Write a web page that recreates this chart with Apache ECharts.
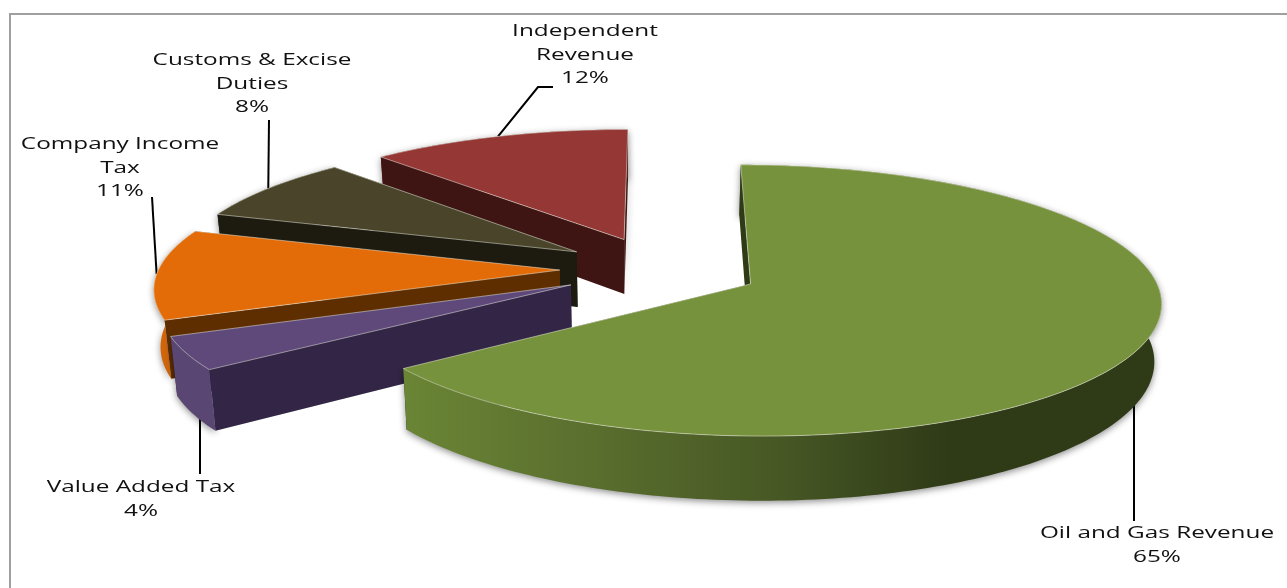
<!DOCTYPE html>
<html>
<head>
<meta charset="utf-8">
<style>html,body{margin:0;padding:0;background:#fff}#chart{width:1287px;height:588px}</style>
<script src="https://cdn.jsdelivr.net/npm/echarts@6/dist/echarts.min.js"></script>
</head>
<body>
<div id="chart"></div>
<script>
// Revenue shares in percent, clockwise from twelve o'clock.
var categories = ['Oil and Gas Revenue', 'Value Added Tax', 'Company Income\nTax', 'Customs & Excise\nDuties', 'Independent\nRevenue'];
var shares = [65, 4, 11, 8, 12];

// Face colours per slice.
var topColors = ['#76923C', '#5F497A', '#E36C09', '#4A452A', '#953735'];
var cutColors = ['#2F3A17', '#322545', '#5F2E00', '#1D1B10', '#3F1513'];
var rimColors = ['#6A8535', '#5A4673', '#D2650A', '#2E2B1A', '#5E2220'];

// Label block centres and the far end of each leader line.
var labelCentres = [[1157, 545], [141, 499], [120, 168], [252, 84], [585, 55]];
var leaderEnds = [[[1134, 521]], [[200, 474]], [[152, 197]], [[269, 120]], [[553, 87], [538, 87]]];
var leaderOnWallBase = [true, true, false, false, false];

// Projection of the exploded, tilted pie.
var centreX = 660, centreY = 269, radiusX = 401, radiusY = 130;
var perspective = 0.12, explode = 0.25, wallHeight = 56;
var wallVanishX = 640, taper = 0.014;

var total = shares.reduce(function (a, b) { return a + b; }, 0);
var startAngles = [];
shares.reduce(function (acc, v, i) { startAngles[i] = acc; return acc + v; }, 0);

function project(X, Y, lowered) {
  var s = 1 / (1 + perspective * Y);
  var px = centreX + radiusX * X * s;
  var py = centreY - radiusY * Y * s;
  if (lowered) {
    px = wallVanishX + (px - wallVanishX) * (1 - taper);
    py += wallHeight * s;
  }
  return [px, py];
}

function sliceGeometry(index) {
  var a0 = startAngles[index] / total * Math.PI * 2;
  var a1 = (startAngles[index] + shares[index]) / total * Math.PI * 2;
  var mid = (a0 + a1) / 2;
  var ox = explode * Math.sin(mid), oy = explode * Math.cos(mid);
  var rim = [];
  var steps = Math.max(8, Math.round((a1 - a0) / 0.02));
  for (var i = 0; i <= steps; i++) {
    var t = a0 + (a1 - a0) * i / steps;
    rim.push([ox + Math.sin(t), oy + Math.cos(t)]);
  }
  return { apex: [ox, oy], rim: rim, midPoint: [ox + Math.sin(mid), oy + Math.cos(mid)] };
}

function wallQuad(a, b) {
  return [project(a[0], a[1]), project(b[0], b[1]), project(b[0], b[1], true), project(a[0], a[1], true)];
}

function renderSlice(params, api) {
  var index = api.value(1);
  var g = sliceGeometry(index);
  var rimTop = g.rim.map(function (p) { return project(p[0], p[1]); });
  var rimLow = g.rim.map(function (p) { return project(p[0], p[1], true); }).reverse();
  var apexTop = project(g.apex[0], g.apex[1]);
  var shadow = { shadowBlur: 7, shadowColor: 'rgba(0,0,0,0.45)', shadowOffsetY: 2 };
  var rimFill = rimColors[index];
  if (index === 0) {
    rimFill = new echarts.graphic.LinearGradient(0, 0, 1, 0, [
      { offset: 0, color: '#6A8535' },
      { offset: 0.25, color: '#5A6E2E' },
      { offset: 0.5, color: '#465724' },
      { offset: 0.72, color: '#2F3A17' },
      { offset: 1, color: '#2F3A17' }
    ]);
  }
  var edge = 'rgba(235,235,225,0.65)';

  // Leader line from the slice's mid-angle on the rim out to its label; sits
  // behind the slice so that a wall-base anchor ends cleanly at the wall.
  var ends = leaderEnds[index];
  var anchor = project(g.midPoint[0], g.midPoint[1], leaderOnWallBase[index]);
  if (leaderOnWallBase[index]) {
    anchor = [ends[0][0], anchor[1] - 10];
  }
  var endStyle = index === 4 ? shadow : {};
  var children = [
    {
      type: 'polyline',
      shape: { points: [anchor].concat(ends.slice().reverse()) },
      style: { stroke: '#000', lineWidth: 2, fill: null }
    },
    { type: 'polygon', shape: { points: wallQuad(g.apex, g.rim[g.rim.length - 1]) }, style: Object.assign({ fill: cutColors[index] }, endStyle) },
    { type: 'polygon', shape: { points: rimTop.concat(rimLow) }, style: Object.assign({ fill: rimFill }, shadow) },
    { type: 'polygon', shape: { points: wallQuad(g.apex, g.rim[0]) }, style: { fill: cutColors[index] } },
    { type: 'polygon', shape: { points: [apexTop].concat(rimTop) }, style: { fill: topColors[index], stroke: edge, lineWidth: 0.8 } }
  ];
  children.push({
    type: 'text',
    x: labelCentres[index][0],
    y: labelCentres[index][1],
    scaleX: 1.43,
    style: {
      text: categories[index] + '\n' + shares[index] + '%',
      fontFamily: '"Open Sans"',
      fontSize: 17,
      lineHeight: 23.5,
      fill: '#111',
      align: 'center',
      verticalAlign: 'middle'
    },
    z2: 11
  });
  return { type: 'group', children: children };
}

// Painted from the back of the scene to the front.
var drawOrder = [4, 3, 2, 1, 0];
var chart = echarts.init(document.getElementById('chart'));
chart.setOption({
  animation: false,
  backgroundColor: '#fff',
  graphic: [{
    type: 'polyline',
    silent: true,
    shape: { points: [[10, 588], [10, 14], [1287, 14]] },
    style: { fill: null, stroke: '#A0A0A0', lineWidth: 2 }
  }],
  series: [{
    type: 'custom',
    coordinateSystem: 'none',
    silent: true,
    clip: false,
    renderItem: renderSlice,
    data: drawOrder.map(function (i) { return { name: categories[i], value: [shares[i], i] }; })
  }]
});
</script>
</body>
</html>
